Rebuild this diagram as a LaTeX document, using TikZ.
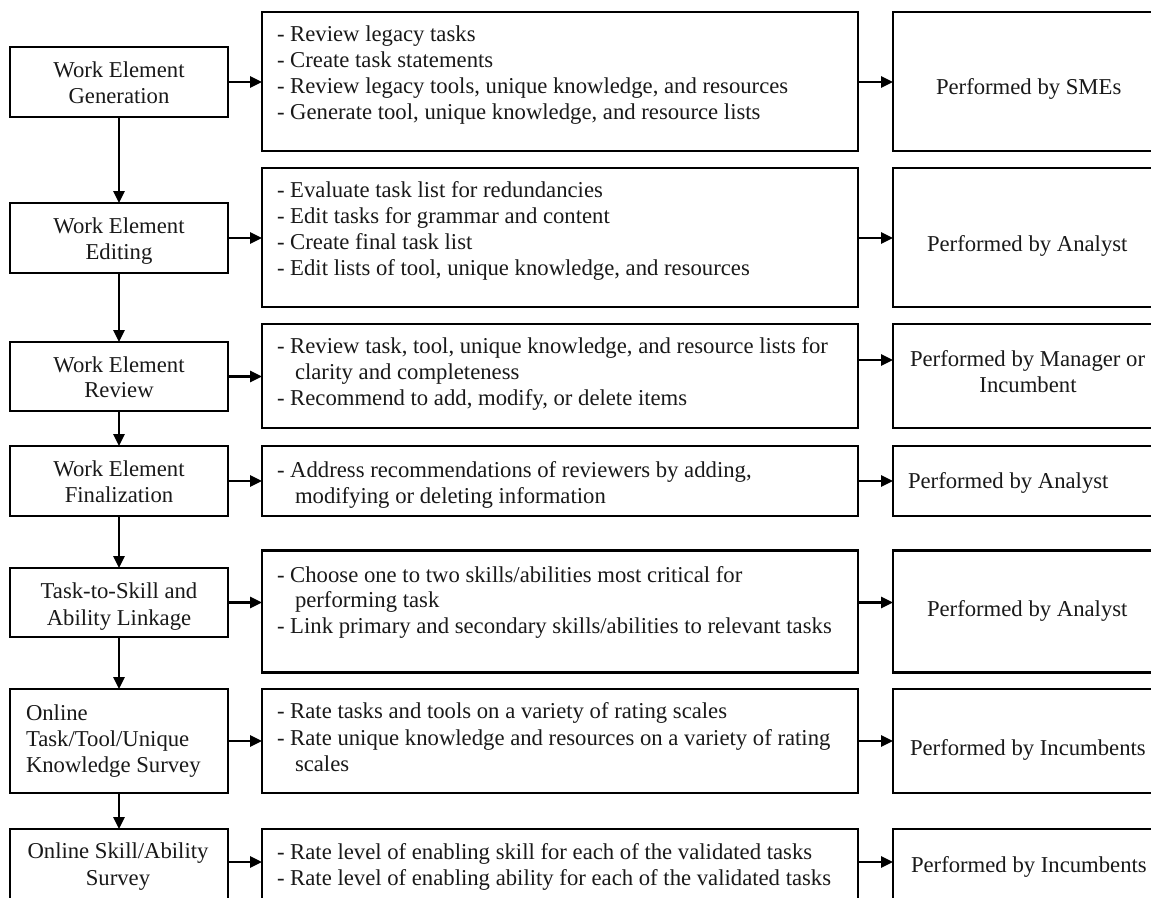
\documentclass[tikz,border=0pt]{standalone}
\usepackage{fontspec}
\setmainfont{Liberation Serif}
\usetikzlibrary{arrows.meta}
\begin{document}
\begin{tikzpicture}[x=1pt,y=-1pt,
  box/.style={draw=black, line width=2.7pt, inner sep=0pt, outer sep=0pt, fill=white},
  txt/.style={inner sep=0pt, outer sep=0pt, text=black!90, font=\fontsize{22.7}{26}\selectfont},
  flow/.style={line width=2.7pt, draw=black, -{Triangle[length=12pt,width=11pt]}}]
\useasboundingbox (0,0) rectangle (1151,897);
\clip (0,0) rectangle (1151,897);
\fill[white] (0,0) rectangle (1151,897);

% stage boxes (left column)
\node[box, minimum width=218pt, minimum height=70pt]  (L1) at (119,82) {};
\node[box, minimum width=218pt, minimum height=70pt]  (L2) at (119,238) {};
\node[box, minimum width=218pt, minimum height=69pt]  (L3) at (119,376.5) {};
\node[box, minimum width=218pt, minimum height=70pt]  (L4) at (119,481) {};
\node[box, minimum width=218pt, minimum height=69pt]  (L5) at (119,602.5) {};
\node[box, minimum width=218pt, minimum height=104pt] (L6) at (119,741) {};
\node[box, minimum width=218pt, minimum height=81pt]  (L7) at (119,869.5) {};

% activity boxes (middle column)
\node[box, minimum width=596pt, minimum height=139pt] (M1) at (560,81.5) {};
\node[box, minimum width=596pt, minimum height=139pt] (M2) at (560,237.5) {};
\node[box, minimum width=596pt, minimum height=104pt] (M3) at (560,376) {};
\node[box, minimum width=596pt, minimum height=70pt]  (M4) at (560,481) {};
\node[box, minimum width=596pt, minimum height=122pt] (M5) at (560,611.5) {};
\node[box, minimum width=596pt, minimum height=104pt] (M6) at (560,741) {};
\node[box, minimum width=596pt, minimum height=81pt]  (M7) at (560,869.5) {};

% performer boxes (right column)
\node[box, minimum width=282pt, minimum height=139pt] (R1) at (1034,81.5) {};
\node[box, minimum width=282pt, minimum height=139pt] (R2) at (1034,237.5) {};
\node[box, minimum width=282pt, minimum height=104pt] (R3) at (1034,376) {};
\node[box, minimum width=282pt, minimum height=70pt]  (R4) at (1034,481) {};
\node[box, minimum width=282pt, minimum height=122pt] (R5) at (1034,611.5) {};
\node[box, minimum width=282pt, minimum height=104pt] (R6) at (1034,741) {};
\node[box, minimum width=282pt, minimum height=81pt]  (R7) at (1034,869.5) {};

% vertical flow between stages
\draw[flow] (L1.south) -- (L2.north);
\draw[flow] (L2.south) -- (L3.north);
\draw[flow] (L3.south) -- (L4.north);
\draw[flow] (L4.south) -- (L5.north);
\draw[flow] (L5.south) -- (L6.north);
\draw[flow] (L6.south) -- (L7.north);

% stage -> activities
\draw[flow] (L1.east) -- (L1.east -| M1.west);
\draw[flow] (L2.east) -- (L2.east -| M2.west);
\draw[flow] (L3.east) -- (L3.east -| M3.west);
\draw[flow] (L4.east) -- (L4.east -| M4.west);
\draw[flow] (L5.east) -- (L5.east -| M5.west);
\draw[flow] (L6.east) -- (L6.east -| M6.west);
\draw[flow] (L7.east |- 0,862) -- (M7.west |- 0,862);

% activities -> performer
\draw[flow] (M1.east |- L1.east) -- (R1.west |- L1.east);
\draw[flow] (M2.east |- L2.east) -- (R2.west |- L2.east);
\draw[flow] ([yshift=16pt]M3.east) -- ([yshift=16pt]M3.east -| R3.west);
\draw[flow] (M4.east) -- (R4.west);
\draw[flow] (M5.east |- L5.east) -- (R5.west |- L5.east);
\draw[flow] (M6.east) -- (R6.west);
\draw[flow] (M7.east |- 0,862) -- (R7.west |- 0,862);

% stage labels
\node[txt, anchor=base] (l1a) at (119,77)  {Work Element};
\node[txt, anchor=base] (l1b) at (119,103) {Generation};
\node[txt, anchor=base] (l2a) at (119,233) {Work Element};
\node[txt, anchor=base] (l2b) at (119,259) {Editing};
\node[txt, anchor=base] (l3a) at (119,372) {Work Element};
\node[txt, anchor=base] (l3b) at (119,397) {Review};
\node[txt, anchor=base] (l4a) at (119,476) {Work Element};
\node[txt, anchor=base] (l4b) at (119,502) {Finalization};
\node[txt, anchor=base] (l5a) at (119,598) {Task-to-Skill and};
\node[txt, anchor=base] (l5b) at (119,625) {Ability Linkage};
\node[txt, anchor=base west] (l6a) at (26,720) {Online};
\node[txt, anchor=base west] (l6b) at (26,746) {Task/Tool/Unique};
\node[txt, anchor=base west] (l6c) at (26,772) {Knowledge Survey};
\node[txt, anchor=base] (l7a) at (118,858) {Online Skill/Ability};
\node[txt, anchor=base] (l7b) at (118,885) {Survey};

% activity lists
\node[txt, anchor=base west] (m1a) at (277,41)  {- Review legacy tasks};
\node[txt, anchor=base west] (m1b) at (277,67)  {- Create task statements};
\node[txt, anchor=base west] (m1c) at (277,93)  {- Review legacy tools, unique knowledge, and resources};
\node[txt, anchor=base west] (m1d) at (277,119) {- Generate tool, unique knowledge, and resource lists};

\node[txt, anchor=base west] (m2a) at (277,197) {- Evaluate task list for redundancies};
\node[txt, anchor=base west] (m2b) at (277,223) {- Edit tasks for grammar and content};
\node[txt, anchor=base west] (m2c) at (277,249) {- Create final task list};
\node[txt, anchor=base west] (m2d) at (277,275) {- Edit lists of tool, unique knowledge, and resources};

\node[txt, anchor=base west] (m3a) at (277,353) {- Review task, tool, unique knowledge, and resource lists for};
\node[txt, anchor=base west] (m3b) at (295,379) {clarity and completeness};
\node[txt, anchor=base west] (m3c) at (277,405) {- Recommend to add, modify, or delete items};

\node[txt, anchor=base west] (m4a) at (277,477) {- Address recommendations of reviewers by adding,};
\node[txt, anchor=base west] (m4b) at (295,503) {modifying or deleting information};

\node[txt, anchor=base west] (m5a) at (277,582) {- Choose one to two skills/abilities most critical for};
\node[txt, anchor=base west] (m5b) at (295,607) {performing task};
\node[txt, anchor=base west] (m5c) at (277,633) {- Link primary and secondary skills/abilities to relevant tasks};

\node[txt, anchor=base west] (m6a) at (277,718) {- Rate tasks and tools on a variety of rating scales};
\node[txt, anchor=base west] (m6b) at (277,745) {- Rate unique knowledge and resources on a variety of rating};
\node[txt, anchor=base west] (m6c) at (295,771) {scales};

\node[txt, anchor=base west] (m7a) at (277,859) {- Rate level of enabling skill for each of the validated tasks};
\node[txt, anchor=base west] (m7b) at (277,885) {- Rate level of enabling ability for each of the validated tasks};

% performer labels
\node[txt, anchor=base west] (r1) at (936,94)  {Performed by SMEs};
\node[txt, anchor=base west] (r2) at (927,251) {Performed by Analyst};
\node[txt, anchor=base west] (r3a) at (910,366) {Performed by Manager or};
\node[txt, anchor=base] (r3b) at (1028,392) {Incumbent};
\node[txt, anchor=base west] (r4) at (908,488) {Performed by Analyst};
\node[txt, anchor=base west] (r5) at (927,616) {Performed by Analyst};
\node[txt, anchor=base west] (r6) at (910,755) {Performed by Incumbents};
\node[txt, anchor=base west] (r7) at (911,872) {Performed by Incumbents};
\end{tikzpicture}
\end{document}
